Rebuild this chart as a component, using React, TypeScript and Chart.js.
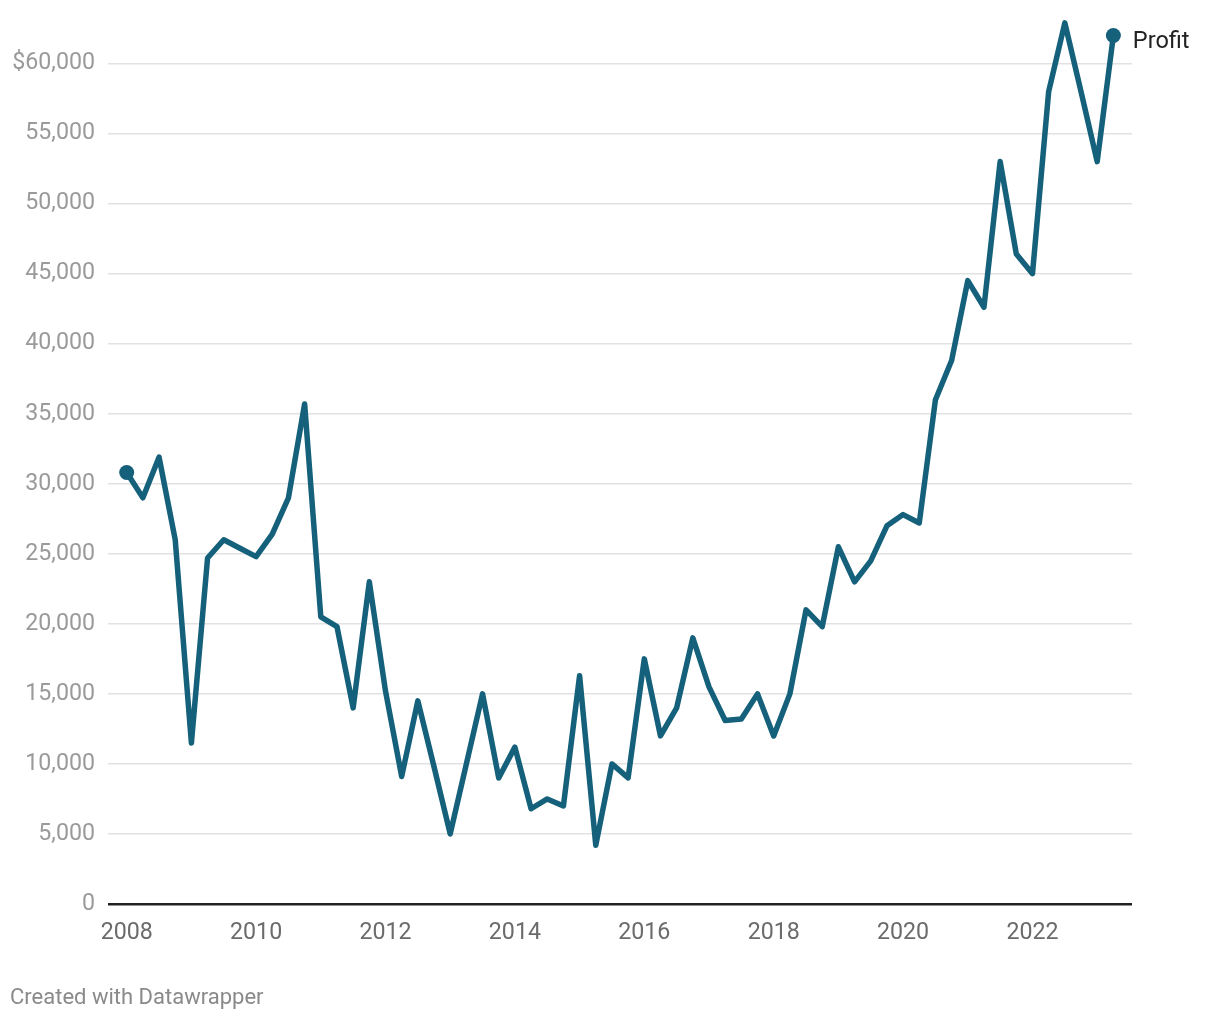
import React, { useEffect, useRef } from "react";
import { Chart, registerables } from "chart.js";

Chart.register(...registerables);

const quarters: string[] = [
  "2008-Q1", "2008-Q2", "2008-Q3", "2008-Q4",
  "2009-Q1", "2009-Q2", "2009-Q3", "2009-Q4",
  "2010-Q1", "2010-Q2", "2010-Q3", "2010-Q4",
  "2011-Q1", "2011-Q2", "2011-Q3", "2011-Q4",
  "2012-Q1", "2012-Q2", "2012-Q3", "2012-Q4",
  "2013-Q1", "2013-Q2", "2013-Q3", "2013-Q4",
  "2014-Q1", "2014-Q2", "2014-Q3", "2014-Q4",
  "2015-Q1", "2015-Q2", "2015-Q3", "2015-Q4",
  "2016-Q1", "2016-Q2", "2016-Q3", "2016-Q4",
  "2017-Q1", "2017-Q2", "2017-Q3", "2017-Q4",
  "2018-Q1", "2018-Q2", "2018-Q3", "2018-Q4",
  "2019-Q1", "2019-Q2", "2019-Q3", "2019-Q4",
  "2020-Q1", "2020-Q2", "2020-Q3", "2020-Q4",
  "2021-Q1", "2021-Q2", "2021-Q3", "2021-Q4",
  "2022-Q1", "2022-Q2", "2022-Q3", "2022-Q4",
  "2023-Q1", "2023-Q2",
];

const profit: number[] = [
  30800, 29000, 31900, 26000,
  11500, 24700, 26000, 25400,
  24800, 26400, 29000, 35700,
  20500, 19800, 14000, 23000,
  15200, 9100, 14500, 9800,
  5000, 10000, 15000, 9000,
  11200, 6800, 7500, 7000,
  16300, 4200, 10000, 9000,
  17500, 12000, 14000, 19000,
  15500, 13100, 13200, 15000,
  12000, 15000, 21000, 19800,
  25500, 23000, 24500, 27000,
  27800, 27200, 36000, 38800,
  44500, 42600, 53000, 46400,
  45000, 58000, 62900, 58000,
  53000, 62000,
];

const seriesLabel = "Profit";
const yTicks: number[] = [0, 5000, 10000, 15000, 20000, 25000, 30000, 35000, 40000, 45000, 50000, 55000, 60000];
const xTicks: number[] = [2008, 2010, 2012, 2014, 2016, 2018, 2020, 2022];

const LINE_COLOR = "#15607a";
const FONT = "Roboto, 'Noto Sans', sans-serif";

function quarterToYear(q: string): number {
  const [y, qq] = q.split("-Q");
  return parseInt(y, 10) + (parseInt(qq, 10) - 1) / 4;
}

export default function App() {
  const canvasRef = useRef<HTMLCanvasElement | null>(null);

  useEffect(() => {
    if (!canvasRef.current) return;
    const data = quarters.map((q, i) => ({ x: quarterToYear(q), y: profit[i] }));
    const lastIdx = data.length - 1;

    const labelPlugin = {
      id: "endLabel",
      afterDatasetsDraw(chart: any) {
        const meta = chart.getDatasetMeta(0);
        const pt = meta.data[lastIdx];
        if (!pt) return;
        const ctx = chart.ctx;
        ctx.save();
        ctx.font = `23.5px ${FONT}`;
        ctx.fillStyle = "#222222";
        ctx.textAlign = "left";
        ctx.textBaseline = "alphabetic";
        ctx.fillText(seriesLabel, pt.x + 19.5, pt.y + 12.5);
        ctx.restore();
      },
    };

    const chart = new Chart(canvasRef.current, {
      type: "line",
      data: {
        datasets: [
          {
            label: seriesLabel,
            data,
            borderColor: LINE_COLOR,
            backgroundColor: LINE_COLOR,
            borderWidth: 5.5,
            borderJoinStyle: "round",
            borderCapStyle: "round",
            tension: 0,
            pointRadius: (ctx: any) => (ctx.dataIndex === 0 || ctx.dataIndex === lastIdx ? 7.5 : 0),
            pointHoverRadius: 0,
            pointBorderWidth: 0,
            pointBackgroundColor: LINE_COLOR,
            clip: false as any,
          },
        ],
      },
      options: {
        animation: false,
        responsive: false,
        maintainAspectRatio: false,
        layout: { padding: { left: 0, right: 88, top: 7.5, bottom: 0 } },
        plugins: {
          legend: { display: false },
          tooltip: { enabled: false },
        },
        scales: {
          x: {
            type: "linear",
            min: 2007.711,
            max: 2023.538,
            afterBuildTicks: (scale: any) => {
              scale.ticks = xTicks.map((v) => ({ value: v }));
            },
            afterFit: (scale: any) => {
              scale.height = 116;
              scale.paddingLeft = 0;
              scale.paddingRight = 0;
            },
            grid: { display: false, drawTicks: false },
            border: { display: false },
            ticks: {
              autoSkip: false,
              maxRotation: 0,
              padding: 15,
              color: "#6b6b6b",
              font: { family: FONT, size: 23.2 },
              callback: (v: any) => String(v),
            },
          },
          y: {
            type: "linear",
            min: 0,
            max: 64000,
            afterBuildTicks: (scale: any) => {
              scale.ticks = yTicks.map((v) => ({ value: v }));
            },
            afterFit: (scale: any) => {
              scale.width = 108;
              scale.paddingTop = 0;
              scale.paddingBottom = 0;
            },
            grid: {
              drawTicks: false,
              color: (ctx: any) => (ctx.tick && ctx.tick.value === 0 ? "#222222" : "#e2e2e2"),
              lineWidth: (ctx: any) => (ctx.tick && ctx.tick.value === 0 ? 2.5 : 1.5),
            },
            border: { display: false },
            ticks: {
              padding: 13,
              color: "#9a9a9a",
              font: { family: FONT, size: 23.2 },
              callback: (v: any) =>
                v === 60000 ? "$60,000" : Number(v).toLocaleString("en-US"),
            },
          },
        },
      },
      plugins: [labelPlugin],
    });

    return () => {
      chart.destroy();
    };
  }, []);

  return (
    <div style={{ position: "absolute", left: 0, top: 0, width: 1220, height: 1020, background: "#ffffff" }}>
      <canvas ref={canvasRef} width={1220} height={1020} style={{ width: 1220, height: 1020, display: "block" }} />
      <div
        style={{
          position: "absolute",
          left: 10,
          top: 984,
          fontFamily: FONT,
          fontSize: 22,
          color: "#8a8a8a",
          lineHeight: "26px",
          whiteSpace: "nowrap",
        }}
      >
        Created with Datawrapper
      </div>
    </div>
  );
}
